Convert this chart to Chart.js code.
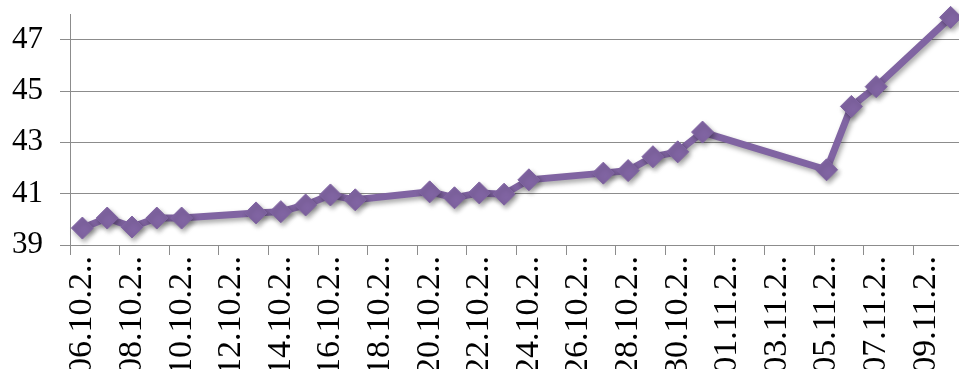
<!DOCTYPE html>
<html lang="ru">
<head>
<meta charset="utf-8">
<title>Gráfica</title>
<script src="https://cdn.jsdelivr.net/npm/chart.js@4.4.1/dist/chart.umd.min.js"></script>
<style>
  html, body { margin: 0; padding: 0; background: #fff; overflow: hidden; }
  #caja { position: absolute; left: 0; top: 0; width: 975px; height: 400px; }
</style>
</head>
<body>
<div id="caja"><canvas id="grafica"></canvas></div>
<script>
// =================== Datos ===================

// Todos los días del eje (eje de fechas, un hueco por día).
const dias = [
  "06.10", "07.10", "08.10", "09.10", "10.10", "11.10", "12.10", "13.10", "14.10",
  "15.10", "16.10", "17.10", "18.10", "19.10", "20.10", "21.10", "22.10", "23.10",
  "24.10", "25.10", "26.10", "27.10", "28.10", "29.10", "30.10", "31.10", "01.11",
  "02.11", "03.11", "04.11", "05.11", "06.11", "07.11", "08.11", "09.11", "10.11"
];

// Etiquetas visibles (una cada dos días, recortadas como en el original).
const etiquetas = [
  "06.10.2..", "08.10.2..", "10.10.2..", "12.10.2..", "14.10.2..", "16.10.2..",
  "18.10.2..", "20.10.2..", "22.10.2..", "24.10.2..", "26.10.2..", "28.10.2..",
  "30.10.2..", "01.11.2..", "03.11.2..", "05.11.2..", "07.11.2..", "09.11.2.."
];

// Valores (null = día sin dato).
const valores = [
  39.66, 40.05, 39.70, 40.05, 40.05, null, null, 40.25, 40.30,
  40.56, 40.95, 40.76, null, null, 41.07, 40.84, 41.03, 40.98,
  41.54, null, null, 41.80, 41.90, 42.44, 42.63, 43.40, null,
  null, null, null, 41.93, 44.40, 45.17, null, null, 47.87
];

// Marcas del eje Y.
const marcasY = [39, 41, 43, 45, 47];

const COLOR = "#8064A2";
const GRIS = "#8c8c8c";
const SERIF = "'Liberation Serif', 'Times New Roman', serif";

// Sombra suave bajo la línea, como en Excel.
const sombra = {
  id: "sombra",
  beforeDatasetsDraw(chart) {
    const c = chart.ctx;
    c.save();
    c.shadowColor = "rgba(0,0,0,0.35)";
    c.shadowBlur = 5;
    c.shadowOffsetX = 2;
    c.shadowOffsetY = 3;
  },
  afterDatasetsDraw(chart) {
    chart.ctx.restore();
  }
};

new Chart(document.getElementById("grafica"), {
  type: "line",
  data: {
    labels: dias,
    datasets: [{
      data: valores,
      borderColor: COLOR,
      backgroundColor: COLOR,
      borderWidth: 7,
      pointStyle: "rectRot",
      pointRadius: 11,
      pointBorderWidth: 1,
      pointBackgroundColor: COLOR,
      pointBorderColor: COLOR,
      spanGaps: true,
      tension: 0,
      clip: false
    }]
  },
  options: {
    responsive: true,
    maintainAspectRatio: false,
    animation: false,
    layout: { padding: { left: 0, right: 5, top: 14, bottom: 0 } },
    plugins: { legend: { display: false }, tooltip: { enabled: false } },
    scales: {
      x: {
        type: "category",
        offset: true,
        border: { display: true, color: GRIS, width: 1 },
        grid: {
          offset: true,
          drawOnChartArea: false,
          drawTicks: true,
          tickLength: 10,
          color: (ctx) => (ctx.index % 2 === 0 ? GRIS : "rgba(0,0,0,0)"),
          tickColor: (ctx) => (ctx.index % 2 === 0 ? GRIS : "rgba(0,0,0,0)")
        },
        ticks: {
          autoSkip: false,
          minRotation: 90,
          maxRotation: 90,
          padding: 1,
          color: "#000",
          font: { family: SERIF, size: 34 },
          callback: (v, i) => (i % 2 === 0 ? etiquetas[i / 2] : "")
        },
        afterFit: (s) => {
          s.height = 155;
          s.paddingLeft = 0;
          s.paddingRight = 0;
        }
      },
      y: {
        min: 39,
        max: 48,
        border: { display: true, color: GRIS, width: 1 },
        grid: { color: GRIS, drawTicks: true, tickLength: 10 },
        ticks: {
          padding: 17,
          color: "#000",
          font: { family: SERIF, size: 31 }
        },
        afterBuildTicks: (s) => {
          s.ticks = marcasY.map(v => ({ value: v }));
        },
        afterFit: (s) => {
          s.width = 70;
          s.paddingTop = 0;
          s.paddingBottom = 0;
        }
      }
    }
  },
  plugins: [sombra]
});
</script>
</body>
</html>
